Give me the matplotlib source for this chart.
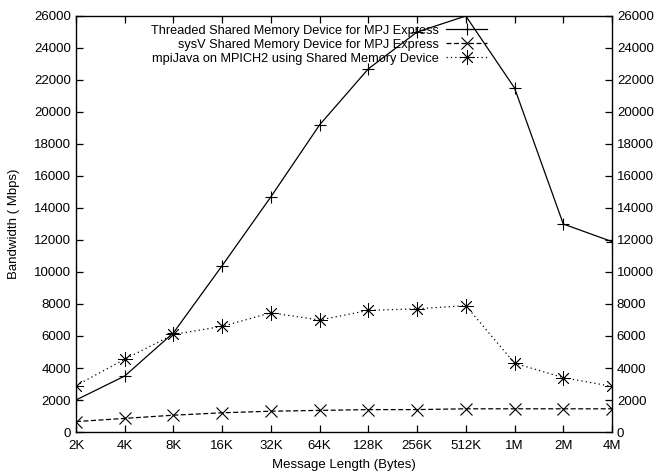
import numpy as np
import matplotlib
matplotlib.use('Agg')
import matplotlib.pyplot as plt

plt.rcParams['font.family'] = ['Liberation Sans', 'DejaVu Sans']

# 数据
sizes = ['2K', '4K', '8K', '16K', '32K', '64K', '128K', '256K', '512K', '1M', '2M', '4M']
threaded = [2000, 3500, 6200, 10400, 14700, 19200, 22700, 25000, 26000, 21500, 13000, 11900]
sysv = [650, 850, 1050, 1200, 1300, 1350, 1400, 1400, 1450, 1450, 1450, 1450]
mpijava = [2900, 4550, 6100, 6600, 7450, 7000, 7600, 7700, 7900, 4300, 3400, 2850]

labels = ['Threaded Shared Memory Device for MPJ Express',
          'sysV Shared Memory Device for MPJ Express',
          'mpiJava on MPICH2 using Shared Memory Device']

x = np.arange(len(sizes))

fig = plt.figure(figsize=(6.59, 4.73), dpi=100)
ax = fig.add_axes([76/659, 1-432/473, (612-76)/659, (432-16)/473])

ax.plot(x, threaded, color='k', lw=0.9, ls='-', marker='+', ms=9, mew=0.8, label=labels[0])
ax.plot(x, sysv, color='k', lw=0.9, ls=(0, (4, 2)), marker='x', ms=8, mew=0.8, label=labels[1])
ax.plot(x, mpijava, color='k', lw=0.9, ls=(0, (1, 2.5)), marker=(8, 2, 0), ms=10.5, mew=0.6, label=labels[2])

ax.set_xlim(0, len(sizes) - 1)
ax.set_ylim(0, 26000)
ax.set_xticks(x)
ax.set_xticklabels(sizes)
ax.set_yticks(np.arange(0, 26001, 2000))
ax.tick_params(direction='in', top=True, right=True, labelright=True, labelsize=9.5, length=5, width=0.9)
ax.tick_params(axis='x', pad=6)
for s in ax.spines.values():
    s.set_linewidth(1.0)

ax.set_xlabel('Message Length (Bytes)', fontsize=9.5, labelpad=5)
ax.set_ylabel('Bandwidth ( Mbps)', fontsize=9.5, labelpad=10)

leg = ax.legend(loc='upper right', bbox_to_anchor=(0.784, 1.0), frameon=False, fontsize=9.2,
                markerfirst=False, handlelength=3.2, handletextpad=0.6, labelspacing=0.15,
                borderaxespad=0.3)
for t in leg.get_texts():
    t.set_ha('right')
leg._legend_box.align = 'right'

fig.savefig('out.png', dpi=100)
